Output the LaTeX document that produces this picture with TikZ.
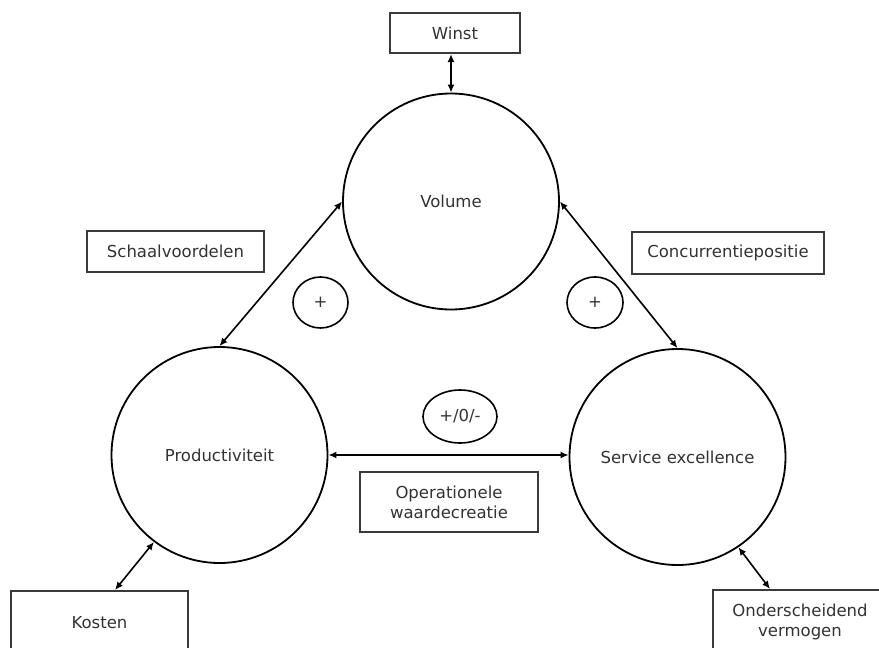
\documentclass[tikz,border=0pt]{standalone}
\usepackage{fontspec}
\setmainfont{DejaVu Sans}
\usetikzlibrary{shapes.geometric,arrows.meta,calc}
\definecolor{txt}{HTML}{333333}
\definecolor{boxline}{HTML}{3A3A3A}
\begin{document}
\begin{tikzpicture}[x=1pt,y=-1pt,
  every node/.style={font=\fontsize{16.5}{20}\selectfont, text=txt},
  bigcirc/.style={circle, draw=black, line width=1.8pt, minimum size=216pt, inner sep=0pt},
  signell/.style={ellipse, draw=black, line width=1.6pt, inner sep=0pt},
  labelbox/.style={rectangle, draw=boxline, line width=2pt, inner sep=0pt, align=center},
  conn/.style={line width=1.6pt, {Latex[length=8pt,width=7pt]}-{Latex[length=8pt,width=7pt]}}
]
\useasboundingbox (0,0) rectangle (879,648);
\fill[white] (0,0) rectangle (879,648);

% circles
\node[bigcirc] (vol) at (451,201.5) {Volume};
\node[bigcirc] (prod) at (219.5,455) {Productiviteit};
\node[bigcirc] (serv) at (677.5,457) {Service excellence};

% sign ellipses
\node[signell, minimum width=55pt, minimum height=51pt] (pl) at (320.5,302.5) {+};
\node[signell, minimum width=56pt, minimum height=51pt] (pr) at (595,302.5) {+};
\node[signell, minimum width=74pt, minimum height=53pt] (pm) at (460,416.5) {+/0/-};

% label boxes
\node[labelbox, minimum width=130pt, minimum height=40pt] (winst) at (455,33) {Winst};
\node[labelbox, minimum width=177pt, minimum height=41pt] (schaal) at (175.5,251.5) {Schaalvoordelen};
\node[labelbox, minimum width=192pt, minimum height=42pt] (conc) at (728,253) {Concurrentiepositie};
\node[labelbox, minimum width=178pt, minimum height=60pt] (oper) at (449,502) {Operationele\\waardecreatie};
\node[labelbox, minimum width=177pt, minimum height=64pt] (kost) at (99.5,623) {Kosten};
\node[labelbox, minimum width=174pt, minimum height=64pt] (onder) at (800,622) {Onderscheidend\\vermogen};

% connectors
\draw[conn] (vol.north |- winst.south) -- (vol.north);
\draw[conn] (vol.west) -- (prod.north);
\draw[conn] (vol.east) -- (serv.north);
\draw[conn] (prod.east) -- (prod.east -| serv.west);
\draw[conn] (prod.233) -- ($(kost.north)+(15.5,0)$);
\draw[conn] (serv.304) -- ($(onder.north)+(-30,0)$);
\end{tikzpicture}
\end{document}
